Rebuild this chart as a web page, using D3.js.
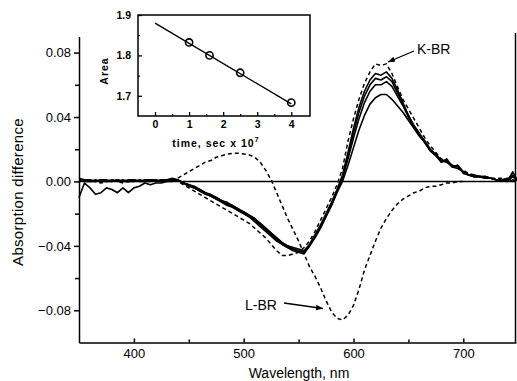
<!DOCTYPE html>
<html>
<head>
<meta charset="utf-8">
<script src="https://cdn.jsdelivr.net/npm/d3@7"></script>
<style>
    body { margin: 0; background: #fff; }
    svg { display: block; font-family: "Liberation Sans", Arial, sans-serif; }
</style>
</head>
<body>
<svg id="chart" width="517" height="381"></svg>
<script>
// wavelength grid, nm
const wl = [
    350, 355, 360, 365, 370, 375, 380, 385, 390, 395,
    400, 405, 410, 415, 420, 425, 430, 435, 440, 445,
    450, 455, 460, 465, 470, 475, 480, 485, 490, 495,
    500, 505, 510, 515, 520, 525, 530, 535, 540, 545,
    550, 555, 560, 565, 570, 575, 580, 585, 590, 595,
    600, 605, 610, 615, 620, 625, 630, 635, 640, 645,
    650, 655, 660, 665, 670, 675, 680, 685, 690, 695,
    700, 705, 710, 715, 720, 725, 730, 735, 740, 745,
    750
]

// K-BR reference difference spectrum (dashed)
const kbr = [
    0.001, 0.000, 0.001, 0.000, -0.001, 0.000, 0.001, 0.000, -0.001, 0.000,
    0.000, 0.001, 0.000, 0.000, 0.001, 0.000, 0.001, 0.001, 0.000, -0.002,
    -0.004, -0.006, -0.008, -0.010, -0.012, -0.014, -0.016, -0.018, -0.020, -0.022,
    -0.024, -0.026, -0.029, -0.032, -0.035, -0.039, -0.043, -0.046, -0.046, -0.045,
    -0.044, -0.041, -0.037, -0.031, -0.024, -0.017, -0.010, -0.002, 0.008, 0.025,
    0.039, 0.051, 0.061, 0.068, 0.073, 0.072, 0.073, 0.067, 0.059, 0.051,
    0.045, 0.039, 0.033, 0.027, 0.022, 0.018, 0.014, 0.012, 0.010, 0.008,
    0.007, 0.005, 0.004, 0.003, 0.003, 0.002, 0.002, 0.002, 0.001, 0.001,
    0.000
]

// measured spectra at increasing delay (solid)
const s1 = [
    0.002, 0.001, 0.001, 0.000, 0.001, 0.001, 0.000, 0.001, 0.000, 0.001,
    0.001, 0.000, 0.001, 0.001, 0.000, 0.001, 0.001, 0.002, 0.001, -0.001,
    -0.002, -0.004, -0.005, -0.007, -0.009, -0.010, -0.012, -0.014, -0.015, -0.017,
    -0.019, -0.021, -0.023, -0.026, -0.029, -0.032, -0.035, -0.038, -0.040, -0.041,
    -0.042, -0.043, -0.039, -0.033, -0.027, -0.020, -0.013, -0.005, 0.004, 0.018,
    0.033, 0.046, 0.056, 0.063, 0.067, 0.066, 0.068, 0.064, 0.057, 0.049,
    0.041, 0.035, 0.030, 0.025, 0.020, 0.017, 0.013, 0.012, 0.009, 0.008,
    0.006, 0.004, 0.004, 0.003, 0.002, 0.002, 0.001, 0.001, 0.002, 0.000,
    0.001
]
const s2 = [
    0.001, 0.000, 0.000, 0.001, 0.000, 0.000, 0.001, 0.000, 0.001, 0.000,
    0.000, 0.001, 0.000, 0.001, 0.001, 0.000, 0.001, 0.001, 0.001, -0.001,
    -0.003, -0.004, -0.006, -0.008, -0.009, -0.011, -0.013, -0.015, -0.016, -0.018,
    -0.020, -0.022, -0.024, -0.027, -0.030, -0.033, -0.036, -0.039, -0.041, -0.042,
    -0.043, -0.044, -0.040, -0.034, -0.028, -0.021, -0.014, -0.006, 0.003, 0.016,
    0.030, 0.043, 0.053, 0.060, 0.064, 0.063, 0.065, 0.062, 0.055, 0.048,
    0.041, 0.034, 0.029, 0.024, 0.019, 0.016, 0.012, 0.013, 0.009, 0.010,
    0.006, 0.004, 0.003, 0.003, 0.003, 0.002, 0.001, 0.001, 0.001, 0.004,
    0.000
]
const s3 = [
    0.000, 0.001, 0.000, 0.000, 0.001, 0.000, 0.000, 0.001, 0.000, 0.000,
    0.001, 0.000, 0.000, 0.001, 0.000, 0.001, 0.000, 0.001, 0.001, -0.001,
    -0.002, -0.004, -0.006, -0.007, -0.009, -0.011, -0.012, -0.014, -0.016, -0.018,
    -0.020, -0.022, -0.025, -0.028, -0.031, -0.034, -0.037, -0.039, -0.041, -0.043,
    -0.044, -0.045, -0.040, -0.034, -0.028, -0.021, -0.014, -0.006, 0.002, 0.014,
    0.027, 0.039, 0.049, 0.056, 0.060, 0.060, 0.062, 0.059, 0.053, 0.047,
    0.040, 0.034, 0.029, 0.025, 0.019, 0.017, 0.012, 0.014, 0.009, 0.010,
    0.005, 0.004, 0.003, 0.003, 0.003, 0.002, 0.001, 0.001, 0.000, 0.006,
    0.000
]
const s4 = [
    -0.010, -0.001, -0.004, -0.008, -0.007, -0.004, -0.005, -0.007, -0.004, -0.007,
    -0.004, -0.003, -0.001, -0.002, -0.001, -0.001, 0.000, 0.000, 0.001, -0.001,
    -0.002, -0.003, -0.005, -0.007, -0.008, -0.010, -0.012, -0.013, -0.015, -0.017,
    -0.019, -0.021, -0.023, -0.026, -0.029, -0.032, -0.035, -0.038, -0.040, -0.042,
    -0.043, -0.044, -0.040, -0.035, -0.029, -0.022, -0.015, -0.007, 0.000, 0.010,
    0.021, 0.032, 0.041, 0.048, 0.052, 0.054, 0.054, 0.051, 0.047, 0.043,
    0.038, 0.033, 0.028, 0.024, 0.019, 0.016, 0.013, 0.013, 0.010, 0.009,
    0.006, 0.004, 0.003, 0.003, 0.002, 0.002, 0.001, 0.001, 0.000, 0.003,
    0.000
]

// L-BR reference (dashed), 440-700 nm only
const lbrWl = [
    440, 445, 450, 455, 460, 465, 470, 475, 480, 485,
    490, 495, 500, 505, 510, 515, 520, 525, 530, 535,
    540, 545, 550, 555, 560, 565, 570, 575, 580, 585,
    590, 595, 600, 605, 610, 615, 620, 625, 630, 635,
    640, 645, 650, 655, 660, 665, 670, 675, 680, 685,
    690, 695, 700
]
const lbr = [
    0.002, 0.004, 0.006, 0.008, 0.010, 0.012, 0.013, 0.015, 0.016, 0.017,
    0.0175, 0.0175, 0.017, 0.0165, 0.015, 0.012, 0.007, 0.001, -0.007, -0.015,
    -0.023, -0.030, -0.037, -0.045, -0.053, -0.059, -0.066, -0.074, -0.081, -0.085,
    -0.086, -0.083, -0.077, -0.067, -0.055, -0.046, -0.037, -0.029, -0.023, -0.018,
    -0.014, -0.011, -0.009, -0.007, -0.006, -0.004, -0.003, -0.003, -0.002, -0.001,
    -0.001, 0.000, 0.000
]

const yTicks = [0.08, 0.04, 0.00, -0.04, -0.08]
const yMinor = [0.06, 0.02, -0.02, -0.06]
const xTicks = [400, 500, 600, 700]
const xMinor = [450, 550, 650]

// inset: integrated area vs delay
const insetT = [1, 1.6, 2.5, 4]
const insetArea = [1.832, 1.800, 1.757, 1.683]
const insetFitT = [0, 4]
const insetFit = [1.88, 1.68]
const insetXTicks = [0, 1, 2, 3, 4]
const insetXMinor = [0.5, 1.5, 2.5, 3.5]
const insetYTicks = [1.7, 1.8, 1.9]
const insetYMinor = [1.75, 1.85]


const svg = d3.select('#chart')

const x = d3.scaleLinear().domain([350, 748]).range([79, 516])
const y = d3.scaleLinear().domain([-0.10, 0.09]).range([342.5, 36.5])

const line = d3.line()
    .x(d => x(d[0]))
    .y(d => y(d[1]))

const styleAxis = (g, size) => {
    g.selectAll('path, line')
        .attr('stroke', '#000')
        .attr('stroke-width', 1.5)
    g.selectAll('text')
        .attr('fill', '#000')
        .style('font-size', size + 'px')
}

// main axes
svg.append('g')
    .attr('transform', 'translate(0,342.5)')
    .call(d3.axisBottom(x).tickValues(xTicks).tickSizeInner(-4).tickSizeOuter(0).tickPadding(6))
    .call(g => styleAxis(g, 13))

svg.append('g')
    .attr('transform', 'translate(0,342.5)')
    .call(d3.axisBottom(x).tickValues(xMinor).tickSizeInner(-3).tickSizeOuter(0).tickFormat(''))
    .call(g => styleAxis(g, 13))
    .select('.domain').remove()

svg.append('g')
    .attr('transform', 'translate(79,0)')
    .call(d3.axisLeft(y).tickValues(yTicks).tickSizeInner(5).tickSizeOuter(0).tickPadding(3)
        .tickFormat(d3.format('.2f')))
    .call(g => styleAxis(g, 13))

svg.append('g')
    .attr('transform', 'translate(79,0)')
    .call(d3.axisLeft(y).tickValues(yMinor).tickSizeInner(4).tickSizeOuter(0).tickFormat(''))
    .call(g => styleAxis(g, 13))
    .select('.domain').remove()

// right frame + zero line
svg.append('line')
    .attr('x1', 515.5).attr('x2', 515.5)
    .attr('y1', 33).attr('y2', 342.5)
    .attr('stroke', '#000').attr('stroke-width', 1.5)

svg.append('line')
    .attr('x1', x(350)).attr('x2', 515.5)
    .attr('y1', y(0)).attr('y2', y(0))
    .attr('stroke', '#000').attr('stroke-width', 1.4)

// spectra
const plot = svg.append('g')

;[s1, s2, s3, s4].forEach(s => {
    plot.append('path')
        .datum(wl.map((w, i) => [w, s[i]]))
        .attr('d', line)
        .attr('fill', 'none')
        .attr('stroke', '#000')
        .attr('stroke-width', 1.6)
        .attr('stroke-linejoin', 'round')
})

plot.append('path')
    .datum(wl.map((w, i) => [w, kbr[i]]))
    .attr('d', line)
    .attr('fill', 'none')
    .attr('stroke', '#000')
    .attr('stroke-width', 1.5)
    .attr('stroke-dasharray', '4,3')

plot.append('path')
    .datum(lbrWl.map((w, i) => [w, lbr[i]]))
    .attr('d', line)
    .attr('fill', 'none')
    .attr('stroke', '#000')
    .attr('stroke-width', 1.5)
    .attr('stroke-dasharray', '4,3')

// axis titles
svg.append('text')
    .attr('x', 299).attr('y', 378)
    .attr('text-anchor', 'middle')
    .style('font-size', '14px')
    .text('Wavelength, nm')

svg.append('text')
    .attr('transform', 'translate(23,192) rotate(-90)')
    .attr('text-anchor', 'middle')
    .style('font-size', '15px')
    .style('letter-spacing', '0.3px')
    .text('Absorption difference')

// labels with arrows
svg.append('defs').append('marker')
    .attr('id', 'head')
    .attr('viewBox', '0 0 10 10')
    .attr('refX', 10).attr('refY', 5)
    .attr('markerWidth', 7).attr('markerHeight', 7)
    .attr('markerUnits', 'userSpaceOnUse')
    .attr('orient', 'auto')
    .append('path')
    .attr('d', 'M0,1 L10,5 L0,9 Z')
    .attr('fill', '#000')

svg.append('text')
    .attr('x', 417).attr('y', 54)
    .style('font-size', '14px')
    .text('K-BR')

svg.append('line')
    .attr('x1', 414).attr('y1', 51)
    .attr('x2', 388).attr('y2', 62)
    .attr('stroke', '#000').attr('stroke-width', 1.3)
    .attr('marker-end', 'url(#head)')

svg.append('text')
    .attr('x', 245).attr('y', 310)
    .style('font-size', '14px')
    .text('L-BR')

svg.append('line')
    .attr('x1', 284).attr('y1', 303)
    .attr('x2', 323).attr('y2', 308.5)
    .attr('stroke', '#000').attr('stroke-width', 1.3)
    .attr('marker-end', 'url(#head)')

// inset
const ix = d3.scaleLinear().domain([-0.5, 4.55]).range([138, 310])
const iy = d3.scaleLinear().domain([1.65, 1.9]).range([116, 15])

const inset = svg.append('g')

inset.append('rect')
    .attr('x', 138).attr('y', 15)
    .attr('width', 172).attr('height', 101)
    .attr('fill', '#fff')
    .attr('stroke', '#000').attr('stroke-width', 1.5)

const styleInset = g => {
    g.select('.domain').remove()
    g.selectAll('line').attr('stroke', '#000').attr('stroke-width', 1.3)
    g.selectAll('text')
        .attr('fill', '#000')
        .style('font-size', '10.5px')
        .style('font-weight', 'bold')
}

inset.append('g')
    .attr('transform', 'translate(0,116)')
    .call(d3.axisBottom(ix).tickValues(insetXTicks).tickSizeInner(-4).tickSizeOuter(0).tickPadding(5)
        .tickFormat(d3.format('d')))
    .call(styleInset)

inset.append('g')
    .attr('transform', 'translate(0,116)')
    .call(d3.axisBottom(ix).tickValues(insetXMinor).tickSizeInner(-2).tickSizeOuter(0).tickFormat(''))
    .call(styleInset)

inset.append('g')
    .attr('transform', 'translate(138,0)')
    .call(d3.axisLeft(iy).tickValues(insetYTicks).tickSizeInner(-4).tickSizeOuter(0).tickPadding(7)
        .tickFormat(d3.format('.1f')))
    .call(styleInset)

inset.append('g')
    .attr('transform', 'translate(138,0)')
    .call(d3.axisLeft(iy).tickValues(insetYMinor).tickSizeInner(-2).tickSizeOuter(0).tickFormat(''))
    .call(styleInset)

inset.append('path')
    .datum(insetFitT.map((t, i) => [t, insetFit[i]]))
    .attr('d', d3.line().x(d => ix(d[0])).y(d => iy(d[1])))
    .attr('fill', 'none')
    .attr('stroke', '#000')
    .attr('stroke-width', 1.4)

inset.selectAll('circle')
    .data(insetT.map((t, i) => [t, insetArea[i]]))
    .join('circle')
    .attr('cx', d => ix(d[0]))
    .attr('cy', d => iy(d[1]))
    .attr('r', 3.6)
    .attr('fill', 'none')
    .attr('stroke', '#000')
    .attr('stroke-width', 1.6)

const tLabel = inset.append('text')
    .attr('x', 216).attr('y', 147)
    .attr('text-anchor', 'middle')
    .style('font-size', '10.5px')
    .style('font-weight', 'bold')
    .style('letter-spacing', '1px')
tLabel.append('tspan').text('time, sec x 10')
tLabel.append('tspan')
    .attr('dy', -5)
    .style('font-size', '7.5px')
    .text('7')

inset.append('text')
    .attr('transform', 'translate(108,71) rotate(-90)')
    .attr('text-anchor', 'middle')
    .style('font-size', '10.5px')
    .style('font-weight', 'bold')
    .style('letter-spacing', '1px')
    .text('Area')
</script>
</body>
</html>
